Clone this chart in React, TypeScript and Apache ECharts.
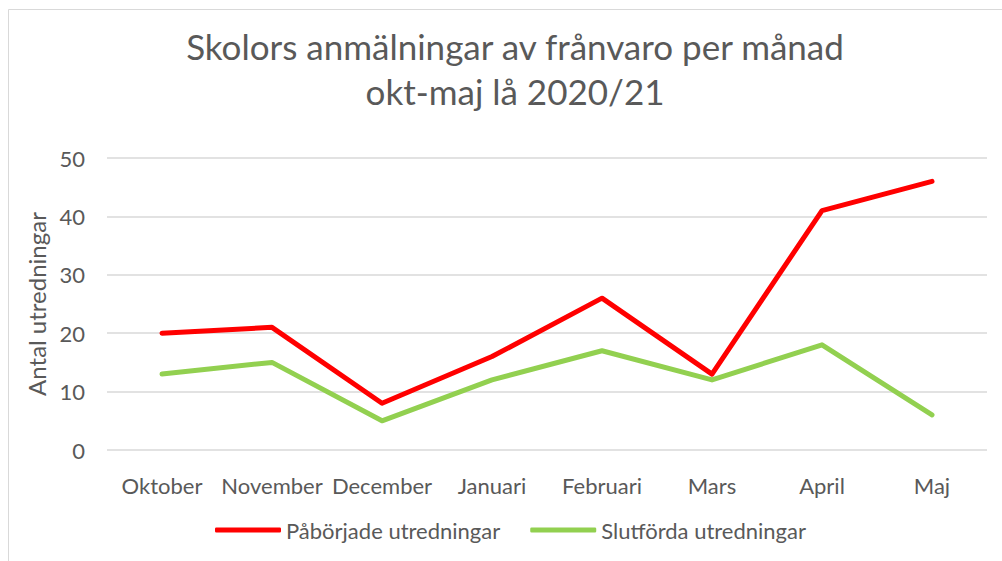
import React, { useEffect, useRef } from "react";
import * as echarts from "echarts";

const months = ["Oktober", "November", "December", "Januari", "Februari", "Mars", "April", "Maj"];
const startedValues = [20, 21, 8, 16, 26, 13, 41, 46];
const finishedValues = [13, 15, 5, 12, 17, 12, 18, 6];
const seriesNames = ["Påbörjade utredningar", "Slutförda utredningar"];
const titleText = "Skolors anmälningar av frånvaro per månad\nokt-maj lå 2020/21";
const yAxisName = "Antal utredningar";

const FONT = "Lato, 'Open Sans', sans-serif";
const TXT = "#595959";

export default function App() {
  const ref = useRef<HTMLDivElement>(null);
  useEffect(() => {
    document.body.style.margin = "0";
    const chart = echarts.init(ref.current!, null, { renderer: "svg" });
    chart.setOption({
      animation: false,
      backgroundColor: "#ffffff",
      textStyle: { fontFamily: FONT },
      title: {
        text: titleText,
        left: 510,
        textAlign: "center",
        top: 18,
        textStyle: { fontFamily: FONT, fontSize: 35, fontWeight: "normal", color: TXT, lineHeight: 45 },
      },
      graphic: [
        {
          type: "rect",
          shape: { x: 8.5, y: 9.5, width: 1100, height: 700 },
          style: { fill: "none", stroke: "#d9d9d9", lineWidth: 1 },
          silent: true,
        },
      ],
      grid: { left: 107, right: 15, top: 158, bottom: 111, containLabel: false },
      legend: {
        left: 210,
        top: 514,
        itemWidth: 66,
        itemHeight: 5,
        itemGap: 30,
        textStyle: { fontFamily: FONT, fontSize: 22, color: TXT },
        data: [
          { name: seriesNames[0], icon: "roundRect" },
          { name: seriesNames[1], icon: "roundRect" },
        ],
      },
      xAxis: {
        type: "category",
        data: months,
        boundaryGap: true,
        axisLine: { show: false },
        axisTick: { show: false },
        axisLabel: { fontFamily: FONT, fontSize: 22, color: TXT, margin: 24, interval: 0 },
      },
      yAxis: {
        type: "value",
        min: 0,
        max: 50,
        interval: 10,
        name: yAxisName,
        nameLocation: "middle",
        nameRotate: 90,
        nameGap: 59,
        nameTextStyle: { fontFamily: FONT, fontSize: 24, color: TXT },
        axisLine: { show: false },
        axisTick: { show: false },
        axisLabel: { fontFamily: FONT, fontSize: 22, color: TXT, margin: 22 },
        splitLine: { lineStyle: { color: "#d9d9d9", width: 1.5 } },
      },
      series: [
        {
          name: seriesNames[0],
          type: "line",
          data: startedValues,
          showSymbol: false,
          symbol: "none",
          color: "#ff0000",
          lineStyle: { color: "#ff0000", width: 5, cap: "round", join: "round" },
        },
        {
          name: seriesNames[1],
          type: "line",
          data: finishedValues,
          showSymbol: false,
          symbol: "none",
          color: "#92d050",
          lineStyle: { color: "#92d050", width: 5, cap: "round", join: "round" },
        },
      ],
    });
    return () => chart.dispose();
  }, []);
  return <div ref={ref} style={{ width: 1002, height: 561 }} />;
}
